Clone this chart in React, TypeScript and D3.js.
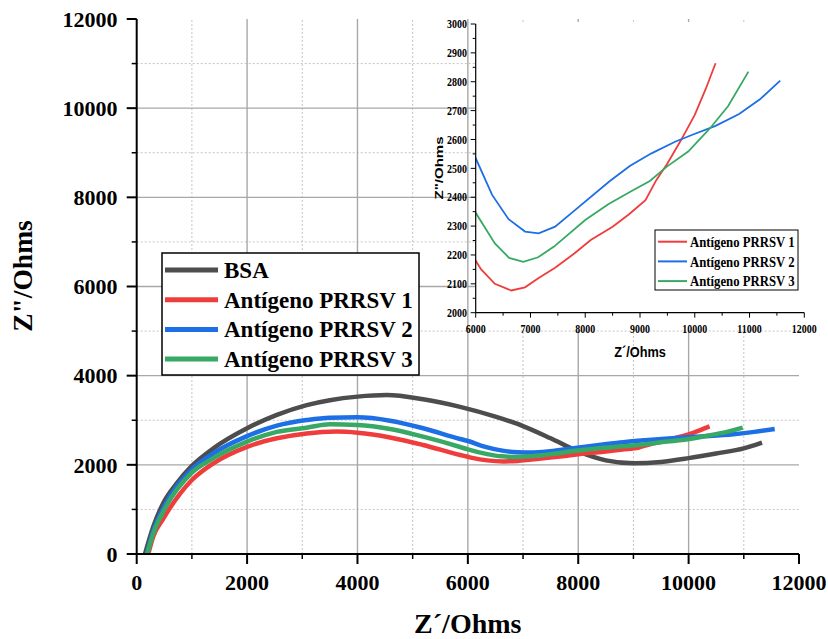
import React from 'react';
import * as d3 from 'd3';

// Nyquist data, Z' (x) and Z'' (y) in Ohms
const bsaRe = [150, 300, 480, 725, 1000, 1390, 2000, 2540, 3080, 3500, 4000, 4530, 5190, 5860, 6500, 7000, 7500, 8000, 8500, 9000, 9500, 10000, 10500, 11000, 11330];
const bsaIm = [0, 610, 1140, 1585, 1975, 2370, 2820, 3120, 3340, 3450, 3530, 3565, 3470, 3300, 3080, 2870, 2595, 2300, 2100, 2035, 2065, 2150, 2255, 2370, 2500];

const ag1Re = [210, 300, 480, 1000, 1390, 2000, 2540, 3080, 3620, 4000, 4590, 5190, 5860, 6000, 6100, 6350, 6650, 6900, 7150, 7450, 7800, 8100, 8500, 8800, 9100, 9300, 9500, 9750, 10000, 10200, 10380];
const ag1Im = [0, 390, 790, 1660, 2035, 2405, 2595, 2705, 2745, 2720, 2615, 2445, 2220, 2180, 2150, 2100, 2077, 2088, 2120, 2156, 2205, 2252, 2298, 2341, 2390, 2460, 2517, 2598, 2685, 2775, 2864];

const ag2Re = [180, 300, 480, 1000, 1390, 2000, 2540, 3080, 3500, 4000, 4590, 5190, 5860, 6000, 6300, 6600, 6900, 7150, 7450, 7780, 8450, 8820, 9210, 9640, 9980, 10380, 10810, 11190, 11560];
const ag2Im = [0, 520, 1025, 1900, 2260, 2645, 2880, 3005, 3058, 3065, 2990, 2820, 2580, 2535, 2408, 2324, 2281, 2275, 2298, 2350, 2456, 2509, 2552, 2592, 2618, 2647, 2688, 2739, 2804];

const ag3Re = [190, 300, 480, 1000, 1390, 2000, 2540, 3080, 3500, 4000, 4590, 5190, 5860, 6000, 6350, 6610, 6870, 7140, 7430, 8000, 8420, 8880, 9180, 9490, 9880, 10280, 10610, 10980];
const ag3Im = [0, 460, 950, 1825, 2150, 2520, 2740, 2833, 2908, 2893, 2804, 2632, 2400, 2346, 2240, 2190, 2176, 2192, 2229, 2321, 2376, 2425, 2456, 2506, 2558, 2639, 2716, 2835];

const seriesNames = ['BSA', 'Antígeno PRRSV 1', 'Antígeno PRRSV 2', 'Antígeno PRRSV 3'];
const seriesColors = ['#4d4d4d', '#ef3d3d', '#1c6fe4', '#38a964'];

const mainTicks = [0, 2000, 4000, 6000, 8000, 10000, 12000];
const insetXTicks = [6000, 7000, 8000, 9000, 10000, 11000, 12000];
const insetYTicks = [2000, 2100, 2200, 2300, 2400, 2500, 2600, 2700, 2800, 2900, 3000];

const serif = '"Liberation Serif", "Times New Roman", serif';
const sans = '"Liberation Sans", Arial, sans-serif';

const zip = (xs: number[], ys: number[]) => xs.map((v, i) => [v, ys[i]] as [number, number]);

const App = () => {
  const series = [zip(bsaRe, bsaIm), zip(ag1Re, ag1Im), zip(ag2Re, ag2Im), zip(ag3Re, ag3Im)];

  const x = d3.scaleLinear().domain([0, 12000]).range([136.7, 799]);
  const y = d3.scaleLinear().domain([0, 12000]).range([554, 19]);
  const ix = d3.scaleLinear().domain([6000, 12000]).range([475.7, 804.3]);
  const iy = d3.scaleLinear().domain([2000, 3000]).range([312.7, 24]);

  const line = d3.line<[number, number]>().x(d => x(d[0])).y(d => y(d[1])).curve(d3.curveMonotoneX);
  const insetLine = d3.line<[number, number]>().x(d => ix(d[0])).y(d => iy(d[1]));

  const minor = d3.range(1000, 12000, 2000);
  const insetYMinor = d3.range(2050, 3000, 100);
  const insetXMinor = d3.range(6500, 12000, 1000);

  return (
    <svg width={828} height={639} style={{ position: 'absolute', left: 0, top: 0, background: '#fff' }}>
      <defs>
        <clipPath id="inset-clip">
          <rect x={ix(6000)} y={iy(3000)} width={ix(12000) - ix(6000)} height={iy(2000) - iy(3000)} />
        </clipPath>
      </defs>

      {/* grid */}
      <g>
        {minor.map(t => (
          <line key={'mx' + t} x1={x(t)} x2={x(t)} y1={y(0)} y2={y(12000)} stroke="#c4c4c4" strokeDasharray="2,2" strokeWidth={1} />
        ))}
        {minor.map(t => (
          <line key={'my' + t} x1={x(0)} x2={x(12000)} y1={y(t)} y2={y(t)} stroke="#c4c4c4" strokeDasharray="2,2" strokeWidth={1} />
        ))}
        {mainTicks.slice(1, -1).map(t => (
          <line key={'gx' + t} x1={x(t)} x2={x(t)} y1={y(0)} y2={y(12000)} stroke="#a8a8a8" strokeWidth={1.4} />
        ))}
        {mainTicks.slice(1, -1).map(t => (
          <line key={'gy' + t} x1={x(0)} x2={x(12000)} y1={y(t)} y2={y(t)} stroke="#a8a8a8" strokeWidth={1.4} />
        ))}
      </g>

      {/* main curves */}
      {series.map((s, i) => (
        <path key={i} d={line(s) || ''} fill="none" stroke={seriesColors[i]} strokeWidth={4.5} strokeLinejoin="round" />
      ))}

      {/* main axes */}
      <g fontFamily={serif} fontWeight="bold" fontSize={22}>
        <line x1={x(0)} x2={x(0)} y1={y(0)} y2={y(12000)} stroke="#000" strokeWidth={2} />
        <line x1={x(0)} x2={x(12000)} y1={y(0)} y2={y(0)} stroke="#000" strokeWidth={2} />
        {mainTicks.map(t => (
          <g key={'t' + t}>
            <line x1={x(0) - 10} x2={x(0)} y1={y(t)} y2={y(t)} stroke="#000" strokeWidth={2} />
            <line x1={x(t)} x2={x(t)} y1={y(0)} y2={y(0) + 10} stroke="#000" strokeWidth={2} />
            <text x={117.5} y={y(t)} dy="0.35em" textAnchor="end">{t}</text>
            <text x={x(t)} y={590} textAnchor="middle">{t}</text>
          </g>
        ))}
        {minor.map(t => (
          <g key={'mt' + t}>
            <line x1={x(0) - 5} x2={x(0)} y1={y(t)} y2={y(t)} stroke="#000" strokeWidth={1.5} />
            <line x1={x(t)} x2={x(t)} y1={y(0)} y2={y(0) + 5} stroke="#000" strokeWidth={1.5} />
          </g>
        ))}
        <text x={467.8} y={633} textAnchor="middle" fontSize={28}>Z´/Ohms</text>
        <text transform="translate(32,276) rotate(-90)" textAnchor="middle" fontSize={27.5}>Z"/Ohms</text>
      </g>

      {/* main legend */}
      <g fontFamily={serif} fontWeight="bold" fontSize={23}>
        <rect x={162} y={253} width={257} height={122} fill="#fff" stroke="#000" strokeWidth={1.5} />
        {seriesNames.map((n, i) => (
          <g key={n} transform={`translate(0,${270 + i * 29.7})`}>
            <line x1={165} x2={218} y1={0} y2={0} stroke={seriesColors[i]} strokeWidth={5} />
            <text x={224} y={0} dy="0.34em">{n}</text>
          </g>
        ))}
      </g>

      {/* inset */}
      <rect x={ix(6000)} y={22} width={828 - ix(6000)} height={308} fill="#fff" />
      <g clipPath="url(#inset-clip)">
        {series.slice(1).map((s, i) => (
          <path key={i} d={insetLine(s) || ''} fill="none" stroke={seriesColors[i + 1]} strokeWidth={1.8} />
        ))}
      </g>
      <g fontFamily={serif} fontWeight="bold" fontSize={12}>
        <line x1={ix(6000)} x2={ix(6000)} y1={iy(2000)} y2={iy(3000)} stroke="#000" strokeWidth={1.2} />
        <line x1={ix(6000)} x2={ix(12000)} y1={iy(2000)} y2={iy(2000)} stroke="#000" strokeWidth={1.2} />
        {insetYTicks.map(t => (
          <g key={'iy' + t}>
            <line x1={ix(6000) - 5} x2={ix(6000)} y1={iy(t)} y2={iy(t)} stroke="#000" strokeWidth={1} />
            <text transform={`translate(467,${iy(t)}) scale(0.83,1)`} dy="0.35em" textAnchor="end">{t}</text>
          </g>
        ))}
        {insetYMinor.map(t => (
          <line key={'iym' + t} x1={ix(6000) - 3} x2={ix(6000)} y1={iy(t)} y2={iy(t)} stroke="#000" strokeWidth={1} />
        ))}
        {insetXTicks.map(t => (
          <g key={'ix' + t}>
            <line x1={ix(t)} x2={ix(t)} y1={iy(2000)} y2={iy(2000) + 5} stroke="#000" strokeWidth={1} />
            <text transform={`translate(${ix(t)},333) scale(0.83,1)`} textAnchor="middle">{t}</text>
          </g>
        ))}
        {insetXMinor.map(t => (
          <line key={'ixm' + t} x1={ix(t)} x2={ix(t)} y1={iy(2000)} y2={iy(2000) + 3} stroke="#000" strokeWidth={1} />
        ))}
      </g>
      <g fontFamily={sans} fontWeight="bold" fontSize={15}>
        <text transform="translate(640,357) scale(0.85,1)" textAnchor="middle">Z´/Ohms</text>
        <text transform="translate(443,168) scale(0.75,1) rotate(-90)" textAnchor="middle">Z"/Ohms</text>
      </g>

      {/* inset legend */}
      <g fontFamily={serif} fontWeight="bold" fontSize={15}>
        <rect x={655} y={230} width={143} height={60} fill="#fff" stroke="#000" strokeWidth={1} />
        {seriesNames.slice(1).map((n, i) => (
          <g key={n} transform={`translate(0,${241.7 + i * 19.7})`}>
            <line x1={658} x2={687} y1={0} y2={0} stroke={seriesColors[i + 1]} strokeWidth={2} />
            <text transform="translate(690,0) scale(0.85,1)" dy="0.35em">{n}</text>
          </g>
        ))}
      </g>
    </svg>
  );
};

export default App;
